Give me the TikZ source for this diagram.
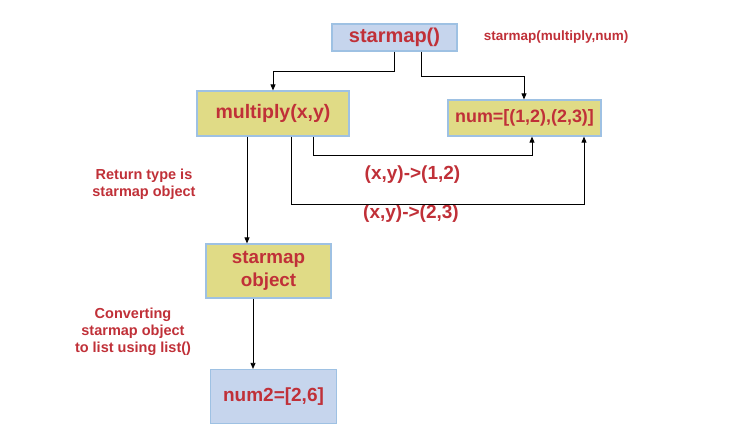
\documentclass[tikz,border=0pt]{standalone}
\usepackage{fontspec}
\setmainfont{Liberation Sans}
\usetikzlibrary{arrows.meta}
\definecolor{txtred}{RGB}{192,48,56}
\definecolor{boxyel}{RGB}{224,219,134}
\definecolor{boxblue}{RGB}{198,213,237}
\definecolor{boxedge}{RGB}{158,193,227}
\tikzset{
  box/.style={draw=boxedge, line width=1.2pt, inner sep=0pt, align=center, text=txtred, font=\bfseries\fontsize{19.5}{22}\selectfont},
  yelbox/.style={box, fill=boxyel},
  bluebox/.style={box, fill=boxblue},
  lbl/.style={text=txtred, align=center, inner sep=0pt},
  conn/.style={draw=black, line width=0.8pt, -{Triangle[width=5pt,length=6pt]}}
}
\begin{document}
\begin{tikzpicture}[x=1pt,y=-1pt]
\useasboundingbox (0,0) rectangle (736,442);
\node[bluebox, minimum width=125pt, minimum height=27pt, font=\bfseries\fontsize{20}{22}\selectfont] (sm) at (394.5,37.5) {starmap()};
\node[lbl, font=\bfseries\fontsize{13.5}{16}\selectfont] (call) at (556,37) {starmap(multiply,num)};
\node[yelbox, minimum width=152pt, minimum height=45pt] (mul) at (273,113.5) {multiply(x,y)};
\node[yelbox, minimum width=153pt, minimum height=36pt, font=\bfseries\fontsize{17.9}{21}\selectfont] (num) at (524.5,118) {num=[(1,2),(2,3)]};
\node[yelbox, minimum width=125pt, minimum height=54pt, font=\bfseries\fontsize{18.8}{23}\selectfont] (smo) at (268.5,271) {starmap\\object};
\node[bluebox, minimum width=126pt, minimum height=54pt, font=\bfseries\fontsize{19}{22}\selectfont] (num2) at (273.5,396.5) {num2=[2,6]};
\node[lbl, font=\bfseries\fontsize{14.5}{17}\selectfont] (ret) at (144,184.5) {Return type is\\starmap object};
\node[lbl, font=\bfseries\fontsize{14.5}{17}\selectfont] (conv) at (133,332) {Converting\\starmap object\\to list using list()};
\node[lbl, font=\bfseries\fontsize{19}{21}\selectfont] (l1) at (412.5,175) {(x,y)->(1,2)};
\node[lbl, font=\bfseries\fontsize{19}{21}\selectfont] (l2) at (411,214) {(x,y)->(2,3)};
\draw[conn] (sm.south -| 394,0) |- (273,71) -- (mul.north -| 273,0);
\draw[conn] (sm.south -| 421,0) |- (524,76) -- (num.north -| 524,0);
\draw[conn] (mul.south -| 313,0) |- (532,155) -- (num.south -| 532,0);
\draw[conn] (mul.south -| 291,0) |- (584,204) -- (num.south -| 584,0);
\draw[conn] (mul.south -| 247,0) -- (smo.north -| 247,0);
\draw[conn] (smo.south -| 253,0) -- (num2.north -| 253,0);
\end{tikzpicture}
\end{document}
